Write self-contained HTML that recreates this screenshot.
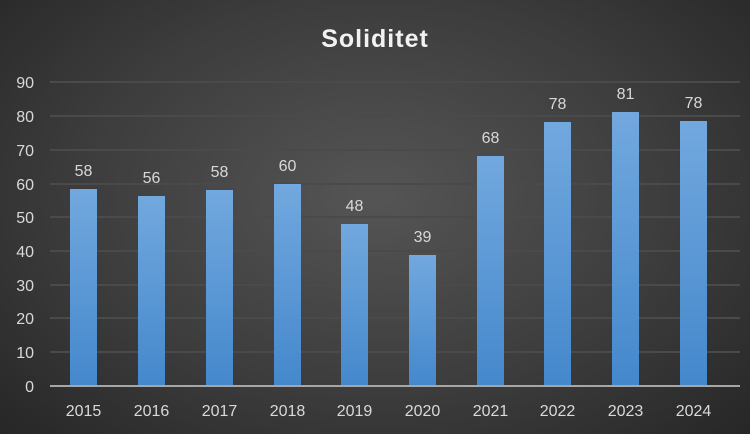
<!DOCTYPE html>
<html><head><meta charset="utf-8"><style>
html,body{margin:0;padding:0}
body{width:750px;height:434px;overflow:hidden;background:radial-gradient(ellipse 70% 80% at 50% 45%,#555 0%,#3d3d3d 55%,#262626 100%);font-family:"Liberation Sans",sans-serif}
</style></head><body>
<svg width="750" height="434" xmlns="http://www.w3.org/2000/svg" style="position:absolute;left:0;top:0">
<defs><linearGradient id="g" x1="0" y1="0" x2="0" y2="1"><stop offset="0" stop-color="#72a8de"/><stop offset="1" stop-color="#4488cc"/></linearGradient></defs>
<text x="375" y="47" text-anchor="middle" font-size="25" font-weight="bold" fill="#f2f2f2" letter-spacing="1">Soliditet</text>
<g stroke="#4a4a4a" stroke-width="2">
<line x1="50" x2="740" y1="82" y2="82"/><line x1="50" x2="740" y1="116" y2="116"/><line x1="50" x2="740" y1="150" y2="150"/><line x1="50" x2="740" y1="184" y2="184"/><line x1="50" x2="740" y1="217" y2="217"/><line x1="50" x2="740" y1="251" y2="251"/><line x1="50" x2="740" y1="285" y2="285"/><line x1="50" x2="740" y1="318" y2="318"/><line x1="50" x2="740" y1="352" y2="352"/>
</g>
<g font-size="16" fill="#d9d9d9" text-anchor="end">
<text x="34" y="88">90</text><text x="34" y="122">80</text><text x="34" y="156">70</text><text x="34" y="190">60</text><text x="34" y="223">50</text><text x="34" y="257">40</text><text x="34" y="291">30</text><text x="34" y="324">20</text><text x="34" y="358">10</text><text x="34" y="392">0</text>
</g>
<g fill="url(#g)">
<rect x="70" y="189" width="27" height="197"/>
<rect x="138" y="196" width="27" height="190"/>
<rect x="206" y="190" width="27" height="196"/>
<rect x="274" y="184" width="27" height="202"/>
<rect x="341" y="224" width="27" height="162"/>
<rect x="409" y="255" width="27" height="131"/>
<rect x="477" y="156" width="27" height="230"/>
<rect x="544" y="122" width="27" height="264"/>
<rect x="612" y="112" width="27" height="274"/>
<rect x="680" y="121" width="27" height="265"/>
</g>
<line x1="50" x2="740" y1="386" y2="386" stroke="#a6a6a6" stroke-width="2"/>
<g font-size="16" fill="#d9d9d9" text-anchor="middle">
<text x="83.5" y="176">58</text><text x="151.5" y="183">56</text><text x="219.5" y="177">58</text><text x="287.5" y="171">60</text><text x="354.5" y="211">48</text><text x="422.5" y="242">39</text><text x="490.5" y="143">68</text><text x="557.5" y="109">78</text><text x="625.5" y="99">81</text><text x="693.5" y="108">78</text>
</g>
<g font-size="16" fill="#d9d9d9" text-anchor="middle">
<text x="83.5" y="416">2015</text><text x="151.5" y="416">2016</text><text x="219.5" y="416">2017</text><text x="287.5" y="416">2018</text><text x="354.5" y="416">2019</text><text x="422.5" y="416">2020</text><text x="490.5" y="416">2021</text><text x="557.5" y="416">2022</text><text x="625.5" y="416">2023</text><text x="693.5" y="416">2024</text>
</g>
</svg>
</body></html>
